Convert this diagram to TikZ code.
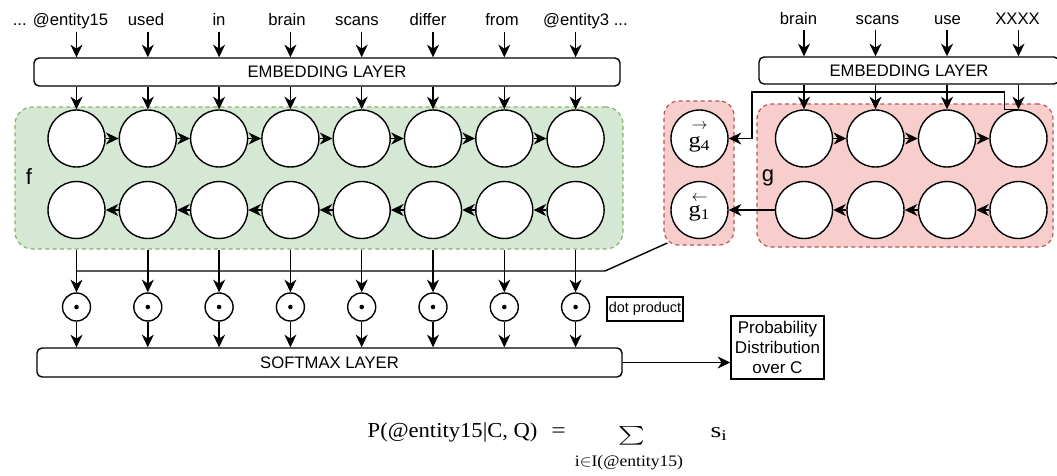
\documentclass[tikz,border=0pt]{standalone}
\usepackage{fontspec}
\setmainfont{Liberation Sans}
\newfontfamily\tnr{Liberation Serif}
\usetikzlibrary{arrows.meta}
\definecolor{gfill}{HTML}{D5E8D4}
\definecolor{gline}{HTML}{82B366}
\definecolor{rfill}{HTML}{F8CECC}
\definecolor{rline}{HTML}{B85450}
\begin{document}
\begin{tikzpicture}[x=0.75pt,y=-0.75pt,line width=1.05pt,
  >={Stealth[length=9.5pt,width=9pt,inset=3pt]},
  arr/.style={->},
  word/.style={font=\fontsize{12.5}{15}\selectfont, inner sep=0pt, anchor=base, text depth=0pt},
  cell/.style={circle,draw,fill=white,minimum size=42.75pt,inner sep=0pt},
  dotc/.style={circle,draw,fill=white,minimum size=21pt,inner sep=0pt},
  layer/.style={draw,fill=white,rounded corners=3.75pt,inner sep=0pt,font=\fontsize{12.5}{15}\selectfont},
  greenbg/.style={draw=gline,fill=gfill,dash pattern=on 3pt off 2.5pt,rounded corners=13pt,inner sep=0pt,line width=0.9pt},
  redbg/.style={draw=rline,fill=rfill,dash pattern=on 3pt off 2.5pt,rounded corners=11pt,inner sep=0pt,line width=0.9pt},
  plain/.style={draw,inner sep=0pt,align=center},
  biglab/.style={font=\fontsize{16.5}{18}\selectfont,inner sep=0pt},
  tt/.style={font=\tnr\fontsize{16}{18}\selectfont,inner sep=0pt}
]
\useasboundingbox (0,0) rectangle (1057,475);

% backgrounds
\node[greenbg,minimum width=456pt,minimum height=106.5pt] (fbg) at (319,178) {};
\node[redbg,minimum width=222pt,minimum height=107.25pt] (gbg) at (905,175.5) {};
\node[redbg,minimum width=52.5pt,minimum height=108pt] (gsm) at (699,173) {};
\node[biglab] (flab) at (29,177) {f};
\node[biglab] (glab) at (768,178) {g};

% left words
\node[word] (w1) at (60.5,25.5) {... @entity15};
\node[word] (w2) at (146,25.5) {used};
\node[word] (w3) at (219,25.5) {in};
\node[word] (w4) at (287,25.5) {brain};
\node[word] (w5) at (357,25.5) {scans};
\node[word] (w6) at (428,25.5) {differ};
\node[word] (w7) at (502,25.5) {from};
\node[word] (w8) at (585.5,25.5) {@entity3 ...};

% right words
\node[word] (v1) at (798.5,24) {brain};
\node[word] (v2) at (877.5,24) {scans};
\node[word] (v3) at (947.5,24) {use};
\node[word] (v4) at (1017.5,24) {XXXX};

% layers
\node[layer,minimum width=439.5pt,minimum height=21pt] (emb) at (327,72) {EMBEDDING LAYER};
\node[layer,minimum width=225pt,minimum height=20.25pt] (emb2) at (909,70.5) {EMBEDDING LAYER};
\node[layer,minimum width=438.75pt,minimum height=21.75pt] (soft) at (329.5,362.5) {SOFTMAX LAYER};

% f cells
\foreach \i in {1,...,8} {
  \pgfmathsetmacro\xx{76.5+71.3*(\i-1)}
  \node[cell] (fa\i) at (\xx,138.5) {};
  \node[cell] (fb\i) at (\xx,210) {};
  \node[dotc] (d\i) at (\xx,307) {};
  \fill (d\i.center) circle[radius=1.7pt];
}
% g cells
\foreach \i in {1,...,4} {
  \pgfmathsetmacro\xx{804+71.5*(\i-1)}
  \node[cell] (ga\i) at (\xx,138.5) {};
  \node[cell] (gb\i) at (\xx,210) {};
}
\node[cell] (g4) at (699.5,138.5) {};
\node[cell] (g1) at (699.5,210) {};
\node[font=\fontsize{13}{14}\selectfont,inner sep=0pt] (g4arr) at (699.5,127) {$\rightarrow$};
\node[tt,font=\tnr\fontsize{16}{18}\selectfont,anchor=base] (g4txt) at (699.5,147) {\scalebox{1.15}[1]{g\textsubscript{4}}};
\node[font=\fontsize{13}{14}\selectfont,inner sep=0pt] (g1arr) at (699.5,199) {$\leftarrow$};
\node[tt,font=\tnr\fontsize{16}{18}\selectfont,anchor=base] (g1txt) at (699.5,216) {\scalebox{1.15}[1]{g\textsubscript{1}}};

% boxes
\node[plain,minimum width=69.75pt,minimum height=47.25pt,font=\fontsize{12.75}{15}\selectfont] (prob) at (777.5,347.5) {Probability\\Distribution\\over C};
\node[plain,minimum width=57pt,minimum height=18pt,font=\fontsize{10.8}{12}\selectfont] (dp) at (645,309) {dot product};

% connectors left
\foreach \i in {1,...,8} {
  \draw[arr] ([yshift=-4pt]w\i.south -| fa\i) -- (fa\i |- emb.north);
  \draw[arr] (fa\i |- emb.south) -- (fa\i.north);
  \draw[arr] (d\i |- fbg.south) -- (d\i.north);
  \draw[arr] (d\i.south) -- (d\i |- soft.north);
}
\foreach \i [evaluate=\i as \j using int(\i+1)] in {1,...,7} {
  \draw[arr] (fa\i.east) -- (fa\j.west);
  \draw[arr] (fb\j.west) -- (fb\i.east);
}
\coordinate (hl) at (605,271);
\draw (d1 |- hl) -- (hl) -- ([xshift=3pt,yshift=2pt]gsm.south west);
\draw[arr] (soft.east) -- (soft.east -| prob.west);

% connectors right
\foreach \i in {1,...,4} {
  \draw[arr] ([yshift=-4pt]v\i.south -| ga\i) -- (ga\i |- emb2.north);
  \draw[arr] (ga\i |- emb2.south) -- (ga\i.north);
}
\foreach \i [evaluate=\i as \j using int(\i+1)] in {1,...,3} {
  \draw[arr] (ga\i.east) -- (ga\j.west);
  \draw[arr] (gb\j.west) -- (gb\i.east);
}
\draw[arr] (gb1.west) -- (g1.east);
\coordinate (gbend) at (752,92);
\draw[arr] (ga4.north) -- ++(-14,0) |- (gbend) |- (g4.east);

% formula
\node[tt,anchor=base west] (pl) at (367,437) {\scalebox{1.06}[1]{P(@entity15|C, Q)}};
\node[tt,anchor=base] (eq) at (558.5,437) {\scalebox{1.2}[1]{=}};
\node[inner sep=0pt,font=\fontsize{14}{16}\selectfont] (sig) at (632,436) {\scalebox{1.9}[1.4]{$\sum$}};
\node[tt,anchor=base west] (si) at (710,437) {\scalebox{1.3}[1]{s\textsubscript{i}}};
\node[tt,font=\tnr\fontsize{12}{13}\selectfont,anchor=base] (sub) at (629,466) {\scalebox{1.1}[1]{i$\in$I(@entity15)}};
\end{tikzpicture}
\end{document}
